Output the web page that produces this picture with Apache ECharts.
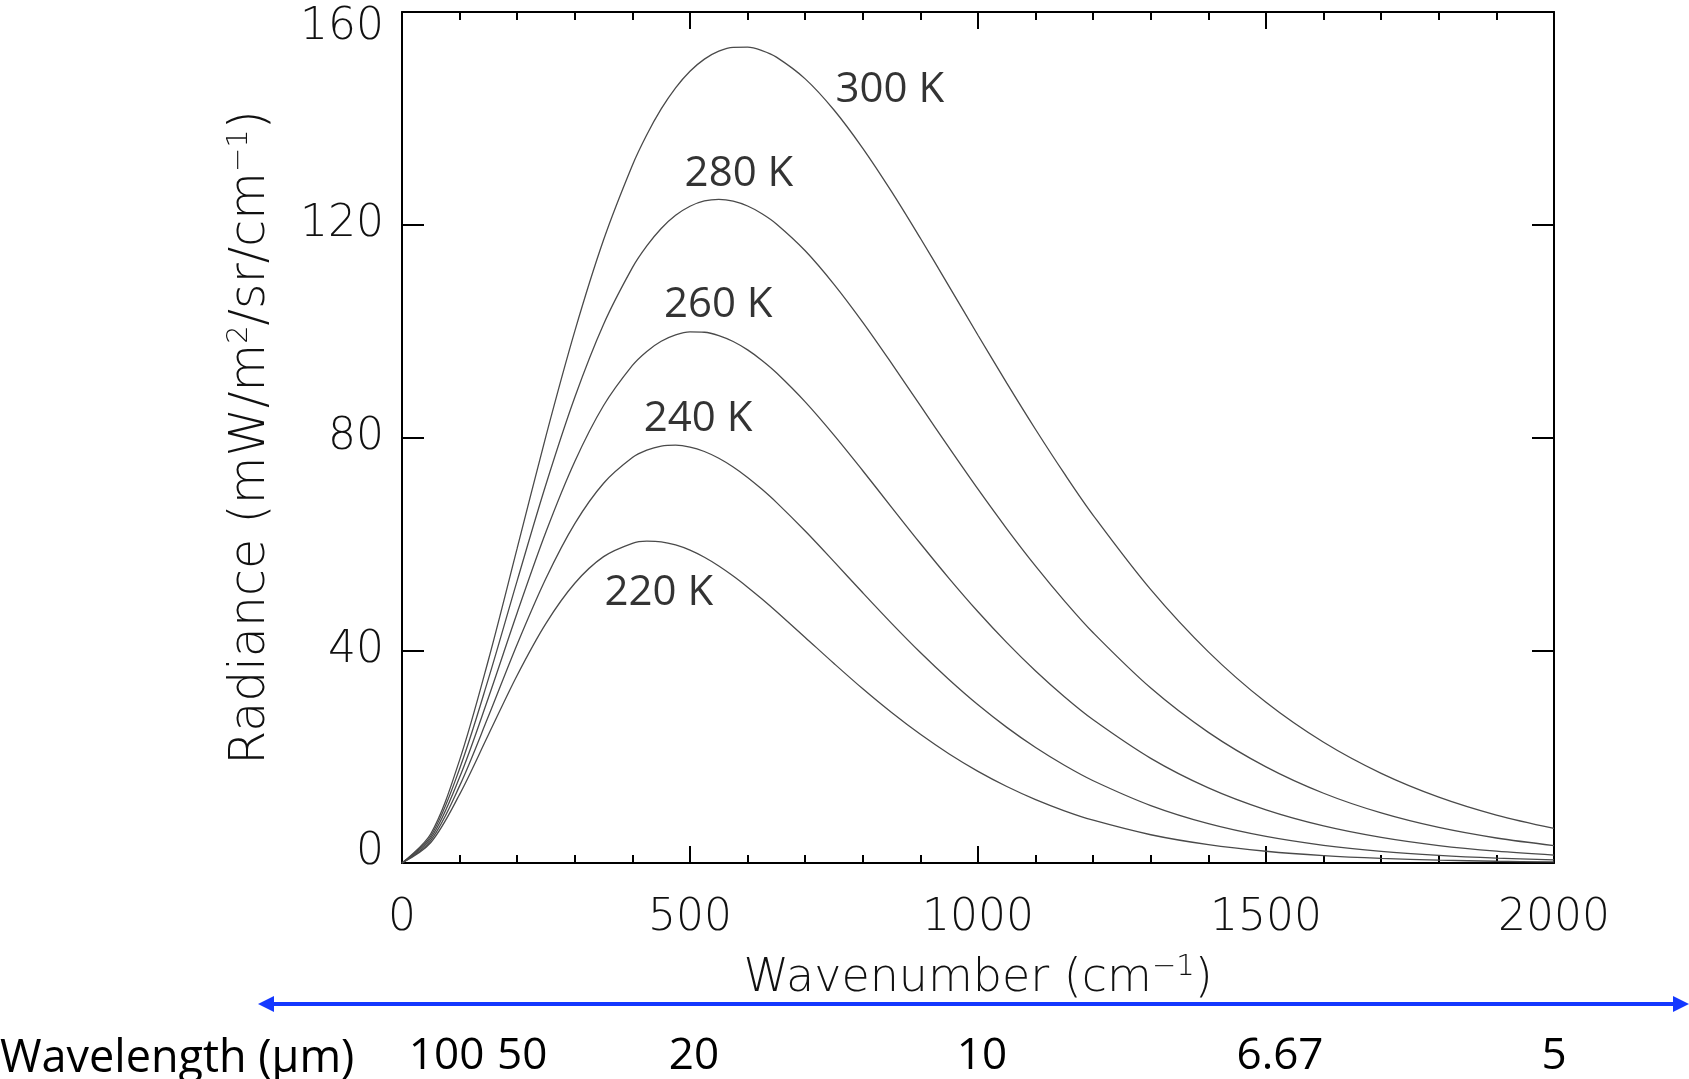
<!DOCTYPE html>
<html>
<head>
<meta charset="utf-8">
<title>Planck radiance</title>
<script src="https://cdn.jsdelivr.net/npm/echarts@6/dist/echarts.min.js"></script>
<style>
  html, body { margin: 0; padding: 0; background: #fff; }
  #chart { width: 1689px; height: 1079px; }
</style>
</head>
<body>
<div id="chart"></div>
<script>
// wavenumber grid (cm-1), denser round the peaks
const wavenumber = [0, 50, 100, 150, 200, 250, 300, 350, 400, 425, 450, 475, 500, 525, 550, 575, 600, 625, 650,
  700, 750, 800, 850, 900, 950, 1000, 1050, 1100, 1150, 1200, 1300, 1400, 1500, 1600, 1700, 1800, 1900, 2000]

// radiance, mW/m2/sr/cm-1
const rad300 = [0, 5.49, 19.35, 38.17, 59.19, 80.32, 100.0, 117.17, 131.19, 136.92, 141.77, 145.74, 148.86, 151.14, 152.63, 153.36, 153.39, 152.75, 151.51,
  147.43, 141.58, 134.38, 126.23, 117.46, 108.38, 99.23, 90.22, 81.50, 73.19, 65.37, 51.39, 39.70, 30.21, 22.69, 16.85, 12.38, 9.01, 6.51]
const rad280 = [0, 5.08, 17.73, 34.61, 53.09, 71.21, 87.57, 101.30, 111.93, 116.01, 119.29, 121.77, 123.48, 124.47, 124.77, 124.44, 123.52, 122.07, 120.15,
  115.11, 108.80, 101.65, 93.93, 85.98, 78.04, 70.28, 62.84, 55.82, 49.29, 43.29, 32.89, 24.56, 18.07, 13.11, 9.41, 6.68, 4.70, 3.28]
const rad260 = [0, 4.67, 16.11, 31.08, 47.06, 62.27, 75.49, 86.01, 93.55, 96.19, 98.09, 99.30, 99.85, 99.79, 99.17, 98.05, 96.47, 94.49, 92.17,
  86.70, 80.45, 73.75, 66.88, 60.07, 53.48, 47.24, 41.43, 36.10, 31.26, 26.92, 19.67, 14.12, 9.99, 6.97, 4.81, 3.28, 2.22, 1.49]
const rad240 = [0, 4.26, 14.50, 27.57, 41.13, 53.53, 63.80, 71.40, 76.22, 77.61, 78.38, 78.56, 78.21, 77.37, 76.10, 74.46, 72.49, 70.25, 67.80,
  62.41, 56.66, 50.80, 45.06, 39.57, 34.45, 29.74, 25.50, 21.71, 18.38, 15.47, 10.80, 7.40, 5.00, 3.33, 2.19, 1.43, 0.92, 0.59]
const rad220 = [0, 3.85, 12.90, 24.11, 35.31, 45.06, 52.60, 57.60, 60.11, 60.50, 60.39, 59.80, 58.82, 57.48, 55.84, 53.95, 51.86, 49.63, 47.28,
  42.41, 37.51, 32.75, 28.29, 24.19, 20.50, 17.23, 14.38, 11.92, 9.82, 8.04, 5.31, 3.45, 2.21, 1.39, 0.87, 0.54, 0.33, 0.20]

// curve labels (in data coords)
const tempNames = ['300 K', '280 K', '260 K', '240 K', '220 K']
const labelX = [847, 585, 549, 514, 446]
const labelY = [145.4, 129.6, 104.9, 83.5, 50.7]

// wavelength scale under the plot
const wlWavenumber = [100, 200, 500, 1000, 1500, 2000]
const wlText = ['100', '50', '20', '10', '6.67', '5']
const wlStyle = ['l', 'm', 'n', 'n', 'r', 'p']

const axisFont = 'DejaVu Sans'
const labelFont = 'Open Sans'

function pairs(ys) {
  return wavenumber.map((x, i) => [x, ys[i]])
}

function lineSeries(name, ys) {
  return {
    name: name,
    type: 'line',
    xAxisIndex: 0,
    yAxisIndex: 0,
    symbol: 'none',
    smooth: 0.33,
    lineStyle: { color: '#4a4a4a', width: 1.3 },
    data: pairs(ys)
  }
}

const frameX = {
  min: 0, max: 2000, interval: 500,
  axisLine: { show: true, onZero: false, lineStyle: { color: '#000', width: 2 } },
  axisTick: { inside: true, length: 17, lineStyle: { color: '#000', width: 2 } },
  minorTick: { show: true, splitNumber: 5, length: 8, lineStyle: { color: '#000', width: 2 } },
  splitLine: { show: false }
}
const frameY = {
  min: 0, max: 160, interval: 40,
  axisLine: { show: true, onZero: false, lineStyle: { color: '#000', width: 2 } },
  axisTick: { inside: true, length: 22, lineStyle: { color: '#000', width: 2 } },
  splitLine: { show: false }
}

const tickText = { fontSize: 44, fontFamily: axisFont, fontWeight: 200, color: '#111' }
const supText = { fontSize: 29, fontFamily: axisFont, fontWeight: 200, color: '#111', padding: [0, 0, 24, 0] }
const wlFont = { fontSize: 44, fontFamily: labelFont, color: '#000' }

const chart = echarts.init(document.getElementById('chart'))

const option = {
  backgroundColor: '#fff',
  animation: false,
  grid: { left: 402, right: 135, top: 12, bottom: 216, containLabel: false, outerBoundsMode: 'none' },
  xAxis: [
    Object.assign({}, frameX, {
      type: 'value',
      position: 'bottom',
      axisLabel: Object.assign({ margin: 34, formatter: v => String(v) }, tickText),
      name: 'Wavenumber (cm{sup|\u22121})',
      nameLocation: 'middle',
      nameGap: 90,
      nameTextStyle: Object.assign({ rich: { sup: supText } }, tickText, { fontSize: 46 })
    }),
    Object.assign({}, frameX, {
      type: 'value',
      position: 'top',
      axisLabel: { show: false }
    }),
    {
      type: 'value',
      position: 'bottom',
      offset: 163,
      min: 0, max: 2000,
      axisLine: { show: false },
      axisTick: { show: false },
      splitLine: { show: false },
      axisLabel: Object.assign({
        customValues: wlWavenumber,
        margin: 8,
        formatter: function (v) {
          const i = wlWavenumber.indexOf(v)
          return '{' + wlStyle[i] + '|' + wlText[i] + '}'
        },
        rich: {
          l: Object.assign({ padding: [0, 26, 0, 0] }, wlFont),
          m: Object.assign({ padding: [0, 0, 0, 10] }, wlFont),
          n: Object.assign({ padding: [0, 0, 0, 8] }, wlFont),
          r: Object.assign({ padding: [0, 0, 0, 28] }, wlFont),
          p: Object.assign({}, wlFont)
        }
      }, wlFont)
    }
  ],
  yAxis: [
    Object.assign({}, frameY, {
      type: 'value',
      position: 'left',
      axisLabel: Object.assign({
        margin: 18,
        formatter: function (v) {
          if (v === 0) return '{lo|0}'
          if (v === 160) return '{hi|160}'
          return String(v)
        },
        rich: {
          lo: Object.assign({ padding: [0, 0, 20, 0] }, tickText),
          hi: Object.assign({ padding: [31, 0, 0, 0] }, tickText)
        }
      }, tickText),
      name: 'Radiance (mW/m{sup|2}/sr/cm{sup|\u22121})',
      nameLocation: 'middle',
      nameRotate: 90,
      nameGap: 124,
      nameTextStyle: Object.assign({ rich: { sup: supText } }, tickText, { fontSize: 49 })
    }),
    Object.assign({}, frameY, {
      type: 'value',
      position: 'right',
      axisLabel: { show: false }
    })
  ],
  series: [
    lineSeries('300 K', rad300),
    lineSeries('280 K', rad280),
    lineSeries('260 K', rad260),
    lineSeries('240 K', rad240),
    lineSeries('220 K', rad220),
    {
      type: 'scatter',
      xAxisIndex: 0,
      yAxisIndex: 0,
      silent: true,
      symbolSize: 1,
      itemStyle: { color: 'transparent' },
      label: {
        show: true,
        position: 'inside',
        formatter: '{b}',
        fontSize: 42,
        fontFamily: labelFont,
        color: '#000'
      },
      data: tempNames.map((n, i) => ({ name: n, value: [labelX[i], labelY[i]] }))
    }
  ],
  graphic: [
    {
      type: 'text',
      left: 0,
      top: 1037,
      style: { text: 'Wavelength (\u03bcm)', fontSize: 45, fontFamily: labelFont, fill: '#000' }
    },
    {
      type: 'group',
      children: [
        { type: 'line', shape: { x1: 268, y1: 1004, x2: 1679, y2: 1004 }, style: { stroke: '#1438ff', lineWidth: 4 } },
        { type: 'polygon', shape: { points: [[258, 1004], [274, 996], [274, 1012]] }, style: { fill: '#1438ff' } },
        { type: 'polygon', shape: { points: [[1689, 1004], [1673, 996], [1673, 1012]] }, style: { fill: '#1438ff' } }
      ]
    }
  ]
}

chart.setOption(option)
</script>
</body>
</html>
